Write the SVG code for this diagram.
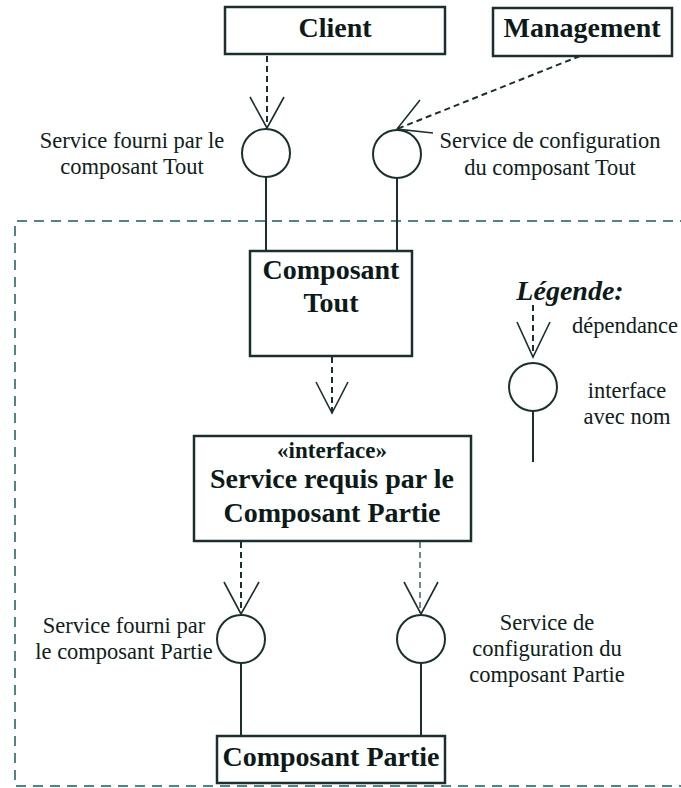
<svg xmlns="http://www.w3.org/2000/svg" width="681" height="788" viewBox="0 0 681 788">
<style>
.box{fill:#fff;stroke:#1b2f2f;stroke-width:2.5}
.ln{fill:none;stroke:#1b2f2f;stroke-width:2}
.dep{fill:none;stroke:#1b2f2f;stroke-width:2;stroke-dasharray:6 4}
.dep2{fill:none;stroke:#4a6363;stroke-width:1.5;stroke-dasharray:6 4}
.head{fill:none;stroke:#1b2f2f;stroke-width:1.6}
.ifc{fill:#fff;stroke:#1b2f2f;stroke-width:2}
.frame{fill:none;stroke:#4f8585;stroke-width:2;stroke-dasharray:10 7}
.t{font-family:"Liberation Serif","Times New Roman",serif;font-size:22.5px;fill:#102020;text-anchor:middle}
.b{font-family:"Liberation Serif","Times New Roman",serif;font-size:28px;font-weight:bold;fill:#0d1a1a;text-anchor:middle}
</style>
<rect width="681" height="788" fill="#fff"/>
<path class="frame" d="M690 221 H15 V786 H690"/>
<g id="connectors">
<line class="dep" x1="267" y1="56" x2="267" y2="128"/>
<polyline class="head" points="250,97 267,128 284,97"/>
<line class="dep" x1="580" y1="56" x2="397" y2="129"/>
<polyline class="head" points="420,100 397,129 433,133"/>
<line class="ln" x1="266" y1="177" x2="266" y2="251"/>
<line class="ln" x1="397" y1="178" x2="397" y2="251"/>
<line class="dep" x1="332" y1="357" x2="332" y2="412"/>
<polyline class="head" points="316,382 332,413 348,382"/>
<line class="dep" x1="241" y1="542" x2="241" y2="613"/>
<polyline class="head" points="224,582 241,614 259,582"/>
<line class="dep2" x1="420" y1="542" x2="420" y2="613"/>
<polyline class="head" points="404,582 421,614 438,582"/>
<line class="ln" x1="241" y1="663" x2="241" y2="736"/>
<line class="ln" x1="421" y1="663" x2="421" y2="736"/>
</g>
<g id="client"><rect class="box" x="225" y="7" width="220" height="47"/><text class="b" x="335" y="37">Client</text></g>
<g id="management"><rect class="box" x="493" y="8" width="179" height="48"/><text class="b" x="582" y="37">Management</text></g>
<g id="if-fourni-tout"><circle class="ifc" cx="266" cy="153" r="24"/><text class="t" x="132" y="148">Service fourni par le</text><text class="t" x="132" y="174">composant Tout</text></g>
<g id="if-config-tout"><circle class="ifc" cx="397" cy="154" r="24"/><text class="t" x="550" y="148">Service de configuration</text><text class="t" x="550" y="175">du composant Tout</text></g>
<g id="composant-tout"><rect class="box" x="250" y="251" width="162" height="105"/><text class="b" x="331" y="279">Composant</text><text class="b" x="331" y="312">Tout</text></g>
<g id="legende">
<text x="570" y="300" style="font-family:'Liberation Serif','Times New Roman',serif;font-size:28px;font-weight:bold;font-style:italic;fill:#0d1a1a;text-anchor:middle">Légende:</text>
<line class="dep" x1="533" y1="305" x2="533" y2="356"/>
<polyline class="head" points="517,322 533,357 550,322"/>
<text class="t" x="625" y="333">dépendance</text>
<circle class="ifc" cx="533" cy="387" r="24"/>
<line class="ln" x1="533" y1="411" x2="533" y2="462"/>
<text class="t" x="627" y="398">interface</text>
<text class="t" x="627" y="424">avec nom</text>
</g>
<g id="interface"><rect class="box" x="194" y="436" width="277" height="105"/><text class="b" x="332" y="458" style="font-size:23px">«interface»</text><text class="b" x="332" y="488">Service requis par le</text><text class="b" x="332" y="522">Composant Partie</text></g>
<g id="if-fourni-partie"><circle class="ifc" cx="241" cy="639" r="24"/><text class="t" x="124" y="633">Service fourni par</text><text class="t" x="124" y="659">le composant Partie</text></g>
<g id="if-config-partie"><circle class="ifc" cx="421" cy="639" r="24"/><text class="t" x="547" y="630">Service de</text><text class="t" x="547" y="656">configuration du</text><text class="t" x="547" y="682">composant Partie</text></g>
<g id="composant-partie"><rect class="box" x="217" y="736" width="228" height="47"/><text class="b" x="331" y="766">Composant Partie</text></g>
</svg>
